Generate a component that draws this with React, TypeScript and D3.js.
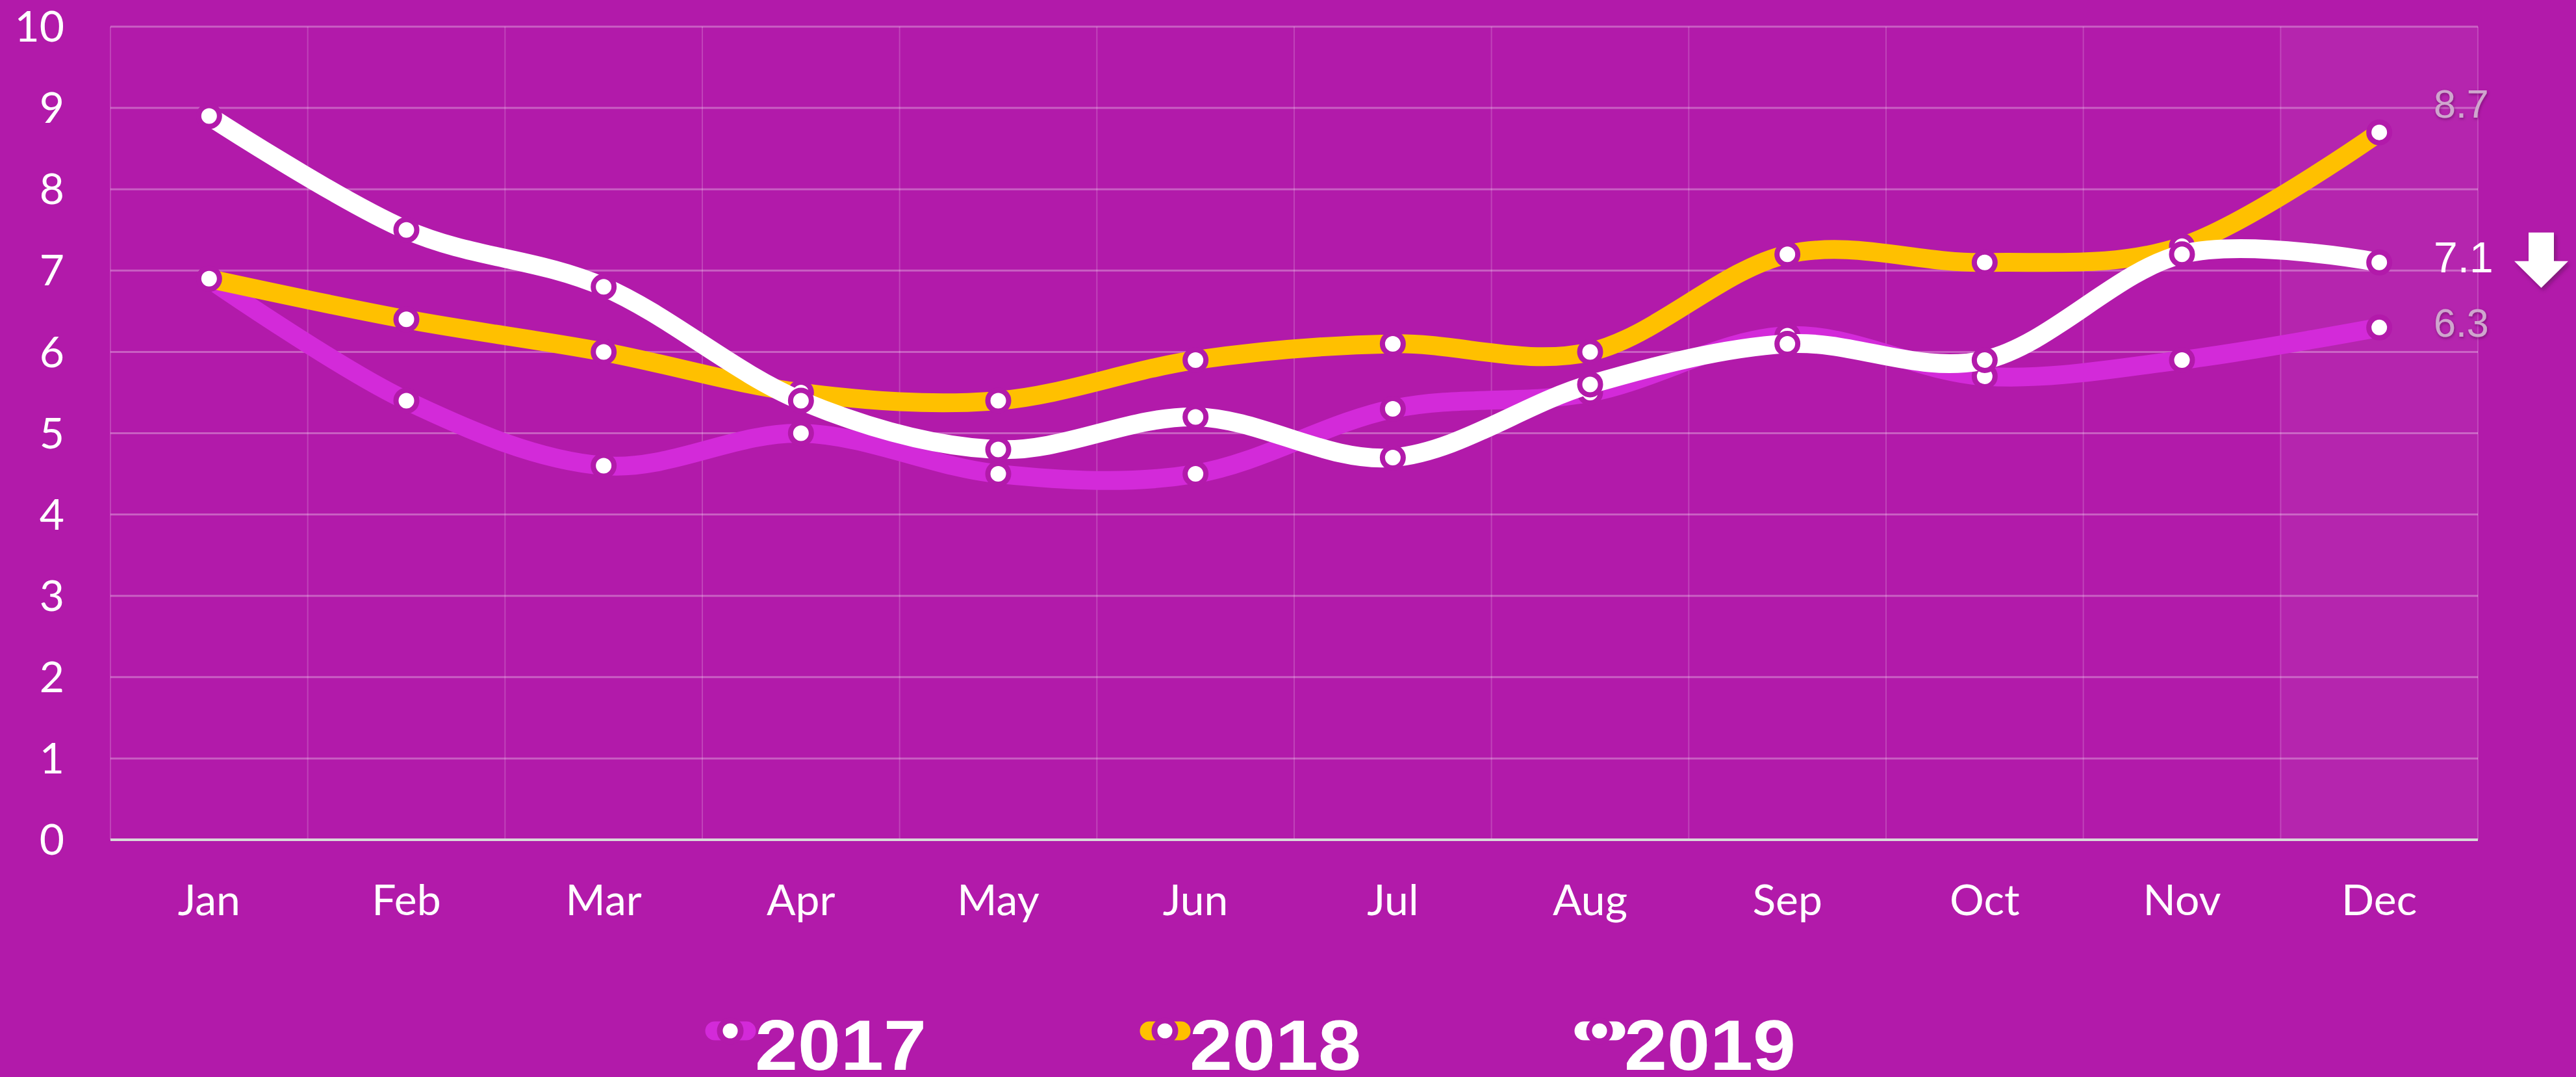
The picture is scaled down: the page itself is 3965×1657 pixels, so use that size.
import React from "react";
import * as d3 from "d3";

const months = ["Jan", "Feb", "Mar", "Apr", "May", "Jun", "Jul", "Aug", "Sep", "Oct", "Nov", "Dec"];
const values2017 = [6.9, 5.4, 4.6, 5.0, 4.5, 4.5, 5.3, 5.5, 6.2, 5.7, 5.9, 6.3];
const values2018 = [6.9, 6.4, 6.0, 5.5, 5.4, 5.9, 6.1, 6.0, 7.2, 7.1, 7.3, 8.7];
const values2019 = [8.9, 7.5, 6.8, 5.4, 4.8, 5.2, 4.7, 5.6, 6.1, 5.9, 7.2, 7.1];
const seriesNames = ["2017", "2018", "2019"];
const yTicks = [0, 1, 2, 3, 4, 5, 6, 7, 8, 9, 10];

const W = 3965;
const H = 1657;
const BG = "#B21AAA";
const COLORS = ["#D32AD9", "#FFC000", "#FFFFFF"];
const LABEL_FILL = ["#cfa6ce", "#cfa6ce", "#FFFFFF"];
const LABEL_DY = [-7, -44, -8];

const M = { left: 170, right: W - 3814, top: 41, bottom: H - 1292 };

export default function App() {
  const series = [values2017, values2018, values2019];
  const x = d3.scaleBand<string>().domain(months).range([M.left, W - M.right]).paddingInner(0).paddingOuter(0);
  const y = d3.scaleLinear().domain([0, 10]).range([H - M.bottom, M.top]);
  const cx = (m: string) => (x(m) as number) + x.bandwidth() / 2;
  const line = d3
    .line<number>()
    .x((_, i) => cx(months[i]))
    .y((d) => y(d))
    .curve(d3.curveCardinal.tension(0));

  const bounds = months.map((m) => x(m) as number).concat([W - M.right]);
  const last = months[months.length - 1];
  const lastX = x(last) as number;

  const legendDot0 = 1124;
  const legendStep = 669;
  const legendY = 1586;

  const y71 = y(values2019[values2019.length - 1]);

  return (
    <div style={{ position: "fixed", left: 0, top: 0, width: W, height: H, background: BG }}>
      <svg width={W} height={H} style={{ display: "block" }}>
        <defs>
          <filter id="lblShadow" x="-20%" y="-20%" width="140%" height="140%">
            <feDropShadow dx="1" dy="2" stdDeviation="2" floodColor="#5a0a55" floodOpacity="0.6" />
          </filter>
          <filter id="arrowShadow" x="-20%" y="-20%" width="150%" height="150%">
            <feDropShadow dx="3" dy="4" stdDeviation="3" floodColor="#4a0846" floodOpacity="0.5" />
          </filter>
        </defs>
        <rect x={0} y={0} width={W} height={H} fill={BG} />
        <rect x={lastX} y={M.top} width={x.bandwidth()} height={y(0) - M.top} fill="rgba(255,255,255,0.05)" />
        {bounds.map((bx, i) => (
          <line key={"v" + i} x1={bx} x2={bx} y1={M.top} y2={y(0)} stroke="rgba(255,255,255,0.18)" strokeWidth={2} />
        ))}
        {yTicks
          .filter((t) => t > 0)
          .map((t) => (
            <line key={"h" + t} x1={M.left} x2={W - M.right} y1={y(t)} y2={y(t)} stroke="rgba(255,255,255,0.3)" strokeWidth={3} />
          ))}
        <line x1={M.left} x2={W - M.right} y1={y(0)} y2={y(0)} stroke="#d9d9d9" strokeWidth={4} />
        {yTicks.map((t) => (
          <text
            key={"yt" + t}
            x={99}
            y={y(t)}
            dy="0.35em"
            textAnchor="end"
            fill="#FFFFFF"
            fontFamily="Lato, 'Open Sans', sans-serif"
            fontSize={66}
          >
            {t}
          </text>
        ))}
        {months.map((m) => (
          <text
            key={"xt" + m}
            x={cx(m)}
            y={1408}
            textAnchor="middle"
            fill="#FFFFFF"
            fontFamily="Lato, 'Open Sans', sans-serif"
            fontSize={66}
          >
            {m}
          </text>
        ))}
        {series.map((vals, si) => (
          <g key={"s" + si}>
            <path d={line(vals) || ""} fill="none" stroke={COLORS[si]} strokeWidth={29} strokeLinejoin="round" />
            {vals.map((v, i) => (
              <circle key={i} cx={cx(months[i])} cy={y(v)} r={16} fill="#FFFFFF" stroke={BG} strokeWidth={8} />
            ))}
          </g>
        ))}
        {series.map((vals, si) => {
          const v = vals[vals.length - 1];
          return (
            <text
              key={"el" + si}
              x={3746}
              y={y(v) + LABEL_DY[si]}
              dy="0.35em"
              fill={LABEL_FILL[si]}
              fontFamily="'Liberation Sans', Arial, sans-serif"
              fontSize={si === 2 ? 66 : 61}
              filter={si === 2 ? undefined : "url(#lblShadow)"}
            >
              {d3.format(".1f")(v)}
            </text>
          );
        })}
        <path
          d={`M${3892},${y71 - 46} L${3931},${y71 - 46} L${3931},${y71 - 2} L${3953},${y71 - 2} L${3911.5},${y71 + 39} L${3870},${y71 - 2} L${3892},${y71 - 2} Z`}
          fill="#FFFFFF"
          filter="url(#arrowShadow)"
        />
        {seriesNames.map((name, si) => {
          const dx = legendDot0 + si * legendStep;
          return (
            <g key={"lg" + si}>
              <line x1={dx - 24} x2={dx + 25} y1={legendY} y2={legendY} stroke={COLORS[si]} strokeWidth={29} strokeLinecap="round" />
              <circle cx={dx} cy={legendY} r={16} fill="#FFFFFF" stroke={BG} strokeWidth={9} />
              <text
                x={dx + 38}
                y={1646}
                fill="#FFFFFF"
                fontFamily="'Liberation Sans', Arial, sans-serif"
                fontWeight="bold"
                fontSize={110}
                textLength={264}
                lengthAdjust="spacingAndGlyphs"
              >
                {name}
              </text>
            </g>
          );
        })}
      </svg>
    </div>
  );
}
